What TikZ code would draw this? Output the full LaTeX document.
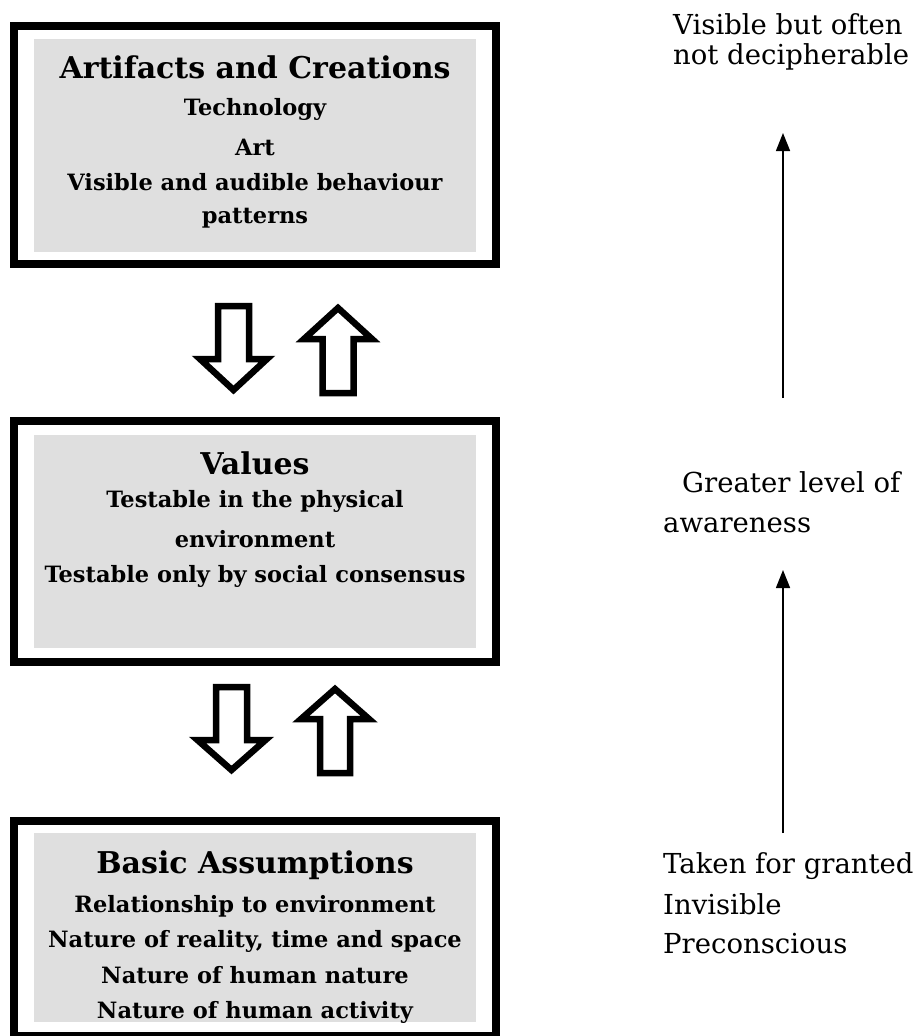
\documentclass[tikz,border=0pt]{standalone}
\usepackage{fontspec}
\setmainfont{DejaVu Serif}
\usetikzlibrary{arrows.meta}
\definecolor{boxgray}{RGB}{223,223,223}
\begin{document}
\begin{tikzpicture}[x=1pt,y=-1pt,
  frame/.style={draw=black,line width=8pt},
  panel/.style={fill=boxgray,draw=none},
  titletext/.style={anchor=base,inner sep=0pt,font=\fontsize{30}{36}\selectfont\bfseries},
  itemtext/.style={anchor=base,inner sep=0pt,font=\fontsize{22.5}{27}\selectfont\bfseries},
  sidetext/.style={anchor=base west,inner sep=0pt,font=\fontsize{27.5}{33}\selectfont},
  blockarrow/.style={draw=black,fill=white,line width=6.5pt,line join=miter},
  levelarrow/.style={draw=black,line width=1.5pt,-{Triangle[width=14pt,length=18pt]}}
]
\useasboundingbox (0,0) rectangle (919,1036);

% box 1
\fill[panel] (34,39) rectangle (476,252);
\draw[frame] (14,26) rectangle (496,264);
\node[titletext] (t1) at (255,78) {Artifacts and Creations};
\node[itemtext] (a1) at (255,115) {Technology};
\node[itemtext] (a2) at (255,155) {Art};
\node[itemtext] (a3) at (255,190) {Visible and audible behaviour};
\node[itemtext] (a4) at (255,223) {patterns};

% box 2
\fill[panel] (34,435) rectangle (476,648);
\draw[frame] (14,421) rectangle (496,662);
\node[titletext] (t2) at (255,474) {Values};
\node[itemtext] (b1) at (255,507) {Testable in the physical};
\node[itemtext] (b2) at (255,547) {environment};
\node[itemtext] (b3) at (255,582) {Testable only by social consensus};

% box 3
\fill[panel] (34,833) rectangle (476,1022);
\draw[frame] (14,821) rectangle (496,1036);
\begin{scope}
\clip (34,833) rectangle (476,1022);
\node[titletext] (t3) at (255,873) {Basic Assumptions};
\node[itemtext] (c1) at (255,912) {Relationship to environment};
\node[itemtext] (c2) at (255,947) {Nature of reality, time and space};
\node[itemtext] (c3) at (255,983) {Nature of human nature};
\node[itemtext] (c4) at (255,1018) {Nature of human activity};
\end{scope}

% block arrows, set 1
\draw[blockarrow] (218,306) -- (249,306) -- (249,359) -- (267,359) -- (233.5,390) -- (200,359) -- (218,359) -- cycle;
\draw[blockarrow] (322.5,393) -- (353.5,393) -- (353.5,339) -- (372,339) -- (338,308) -- (304,339) -- (322.5,339) -- cycle;
% block arrows, set 2
\draw[blockarrow] (216,687) -- (247,687) -- (247,740) -- (265.5,740) -- (231.5,770) -- (197.5,740) -- (216,740) -- cycle;
\draw[blockarrow] (320,773) -- (350,773) -- (350,719) -- (369,719) -- (335,689) -- (301,719) -- (320,719) -- cycle;

% side labels
\node[sidetext] (s1) at (673,34) {Visible but often};
\node[sidetext] (s2) at (673,64) {not decipherable};
\node[sidetext] (s3) at (682,492) {Greater level of};
\node[sidetext] (s4) at (663,532) {awareness};
\node[sidetext] (s5) at (663,873) {Taken for granted};
\node[sidetext] (s6) at (663,914) {Invisible};
\node[sidetext] (s7) at (663,953) {Preconscious};

\coordinate (u1s) at (783,398);
\coordinate (u1e) at (783,133);
\coordinate (u2s) at (783,833);
\coordinate (u2e) at (783,570);
\draw[levelarrow] (u1s) -- (u1e);
\draw[levelarrow] (u2s) -- (u2e);
\end{tikzpicture}
\end{document}
